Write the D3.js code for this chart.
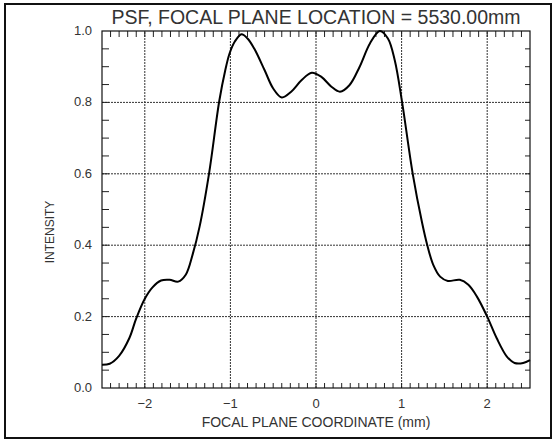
<!DOCTYPE html>
<html>
<head>
<meta charset="utf-8">
<script src="https://cdn.jsdelivr.net/npm/d3@7"></script>
<style>
  body { margin:0; background:#fff; }
  text { font-family: "Liberation Sans", Arial, sans-serif; fill:#333; }
</style>
</head>
<body>
<div id="chart"></div>
<script>
var width = 556;
var height = 442;

var margin = {left:102,right:26,top:31,bottom:54};

// focal plane coordinate (mm)
var coordX = [-2.50,-2.41,-2.30,-2.18,-2.10,-2.00,-1.91,-1.81,-1.71,-1.61,-1.52,-1.44,-1.36,
              -1.25,-1.13,-1.06,-1.01,-0.95,-0.87,-0.80,-0.72,-0.60,-0.50,-0.40,-0.29,-0.17,-0.05,
               0.06, 0.18, 0.28, 0.39, 0.51, 0.63, 0.745,0.84, 0.92, 1.006,1.13, 1.24,
               1.30, 1.37, 1.45, 1.54, 1.68, 1.78, 1.88, 2.00, 2.11, 2.23, 2.32, 2.42, 2.50];
// intensity
var intensity = [0.065,0.068,0.090,0.140,0.195,0.250,0.282,0.301,0.303,0.298,0.318,0.375,0.452,
                 0.600,0.804,0.890,0.937,0.970,0.991,0.979,0.950,0.890,0.839,0.814,0.830,0.862,0.883,
                 0.872,0.844,0.830,0.848,0.900,0.965,1.000,0.979,0.918,0.800,0.600,0.462,
                 0.400,0.345,0.312,0.300,0.303,0.289,0.256,0.200,0.140,0.088,0.070,0.070,0.078];

var xTicks = [-2,-1,0,1,2];
var yTicks = [0,0.2,0.4,0.6,0.8,1.0];
var title = "PSF, FOCAL PLANE LOCATION = 5530.00mm";
var xTitle = "FOCAL PLANE COORDINATE (mm)";
var yTitle = "INTENSITY";

var data = coordX.map(function(d,i){ return {x:d, y:intensity[i]}; });

var x = d3.scaleLinear()
          .domain([-2.5,2.5])
          .range([margin.left, width - margin.right]);

var y = d3.scaleLinear()
          .domain([0,1])
          .range([height - margin.bottom, margin.top]);

var svg = d3.select("#chart")
            .append("svg")
            .attr("width",width)
            .attr("height",height);

svg.append("rect")
   .attr("width",width).attr("height",height)
   .attr("fill","#fff");

// outer border of the page
svg.append("rect")
   .attr("x",5).attr("y",4)
   .attr("width",546).attr("height",434)
   .attr("fill","none")
   .attr("stroke","#111")
   .attr("stroke-width",2);

var x0 = x.range()[0], x1 = x.range()[1];
var y0 = y.range()[0], y1 = y.range()[1];

// gridlines
svg.append("g")
   .selectAll("line")
   .data(xTicks)
   .enter().append("line")
   .attr("x1",function(d){ return x(d); })
   .attr("x2",function(d){ return x(d); })
   .attr("y1",y0).attr("y2",y1)
   .attr("stroke","#333")
   .attr("stroke-width",1)
   .attr("stroke-dasharray","2,1");

svg.append("g")
   .selectAll("line")
   .data(yTicks.filter(function(d){ return d > 0 && d < 1; }))
   .enter().append("line")
   .attr("y1",function(d){ return y(d); })
   .attr("y2",function(d){ return y(d); })
   .attr("x1",x0).attr("x2",x1)
   .attr("stroke","#333")
   .attr("stroke-width",1)
   .attr("stroke-dasharray","2,1");

// minor ticks, x every 0.1
var xMinor = d3.range(-2.4,2.45,0.1);
svg.append("g")
   .selectAll("line")
   .data(xMinor)
   .enter().append("line")
   .attr("x1",function(d){ return x(d); })
   .attr("x2",function(d){ return x(d); })
   .attr("y1",y0).attr("y2",y0 - 5)
   .attr("stroke","#222");
svg.append("g")
   .selectAll("line")
   .data(xMinor)
   .enter().append("line")
   .attr("x1",function(d){ return x(d); })
   .attr("x2",function(d){ return x(d); })
   .attr("y1",y1).attr("y2",y1 + 6)
   .attr("stroke","#222");

// minor ticks, y every 0.05
var yMinor = d3.range(0.05,0.99,0.05);
svg.append("g")
   .selectAll("line")
   .data(yMinor)
   .enter().append("line")
   .attr("y1",function(d){ return y(d); })
   .attr("y2",function(d){ return y(d); })
   .attr("x1",x0).attr("x2",x0 + 7)
   .attr("stroke","#222");
svg.append("g")
   .selectAll("line")
   .data(yMinor)
   .enter().append("line")
   .attr("y1",function(d){ return y(d); })
   .attr("y2",function(d){ return y(d); })
   .attr("x1",x1).attr("x2",x1 - 5)
   .attr("stroke","#222");

// plot frame
svg.append("rect")
   .attr("x",x0).attr("y",y1)
   .attr("width",x1 - x0).attr("height",y0 - y1)
   .attr("fill","none")
   .attr("stroke","#111")
   .attr("stroke-width",1.2);

// tick labels
svg.append("g")
   .selectAll("text")
   .data(yTicks)
   .enter().append("text")
   .attr("x",x0 - 10)
   .attr("y",function(d){ return y(d) + 4; })
   .attr("text-anchor","end")
   .style("font-size","13px")
   .text(function(d){ return d.toFixed(1); });

svg.append("g")
   .selectAll("text")
   .data(xTicks)
   .enter().append("text")
   .attr("x",function(d){ return x(d); })
   .attr("y",y0 + 20)
   .attr("text-anchor","middle")
   .style("font-size","13px")
   .text(function(d){ return d < 0 ? "\u2212" + Math.abs(d) : d; });

// titles
svg.append("text")
   .attr("x",(x0 + x1) / 2)
   .attr("y",24)
   .attr("text-anchor","middle")
   .style("font-size","19.5px")
   .text(title);

svg.append("text")
   .attr("x",(x0 + x1) / 2)
   .attr("y",y0 + 39)
   .attr("text-anchor","middle")
   .style("font-size","14px")
   .text(xTitle);

svg.append("text")
   .attr("transform","translate(54," + 232 + ") rotate(-90)")
   .attr("text-anchor","middle")
   .style("font-size","12px")
   .text(yTitle);

// the psf curve
var line = d3.line()
             .x(function(d){ return x(d.x); })
             .y(function(d){ return y(d.y); })
             .curve(d3.curveCatmullRom.alpha(0.5));

svg.append("path")
   .attr("d",line(data))
   .attr("fill","none")
   .style("stroke","#000")
   .style("stroke-width","2");
</script>
</body>
</html>
